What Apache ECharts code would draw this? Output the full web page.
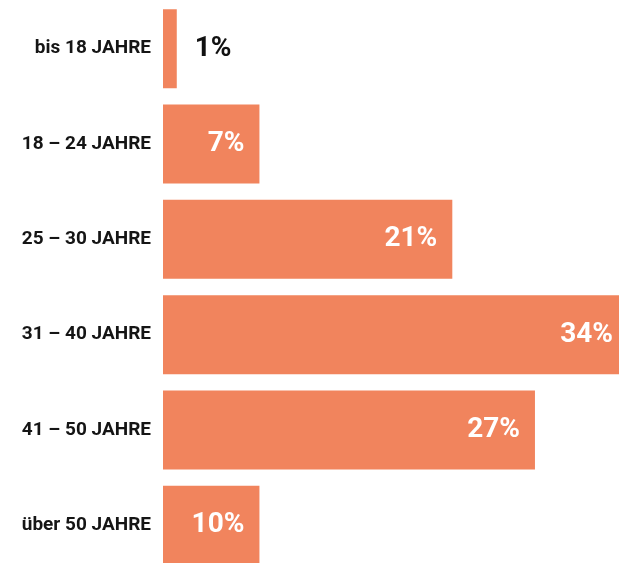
<!DOCTYPE html>
<html>
<head>
<meta charset="utf-8">
<script src="https://cdn.jsdelivr.net/npm/echarts@6/dist/echarts.min.js"></script>
<style>
html,body{margin:0;padding:0;background:#fff;}
#c{width:619px;height:563px;}
</style>
</head>
<body>
<div id="c"></div>
<script>
const categories = ['bis 18 JAHRE', '18 – 24 JAHRE', '25 – 30 JAHRE', '31 – 40 JAHRE', '41 – 50 JAHRE', 'über 50 JAHRE'];
// printed percentages
const percentages = [1, 7, 21, 34, 27, 10];
// bar lengths as drawn in the picture (in % units)
const barLengths = [1, 7, 21, 34, 27, 7];

const chart = echarts.init(document.getElementById('c'));
const data = barLengths.map((v, i) => {
  const item = { value: v };
  if (i === 0) {
    item.label = { position: 'right', distance: 18, color: '#111111' };
  } else if (percentages[i] === 34) {
    item.label = { distance: 6 };
  }
  return item;
});
chart.setOption({
  animation: false,
  grid: { left: 163, right: 0, top: 1, height: 572, containLabel: false, outerBoundsMode: 'none' },
  xAxis: {
    type: 'value', min: 0, max: 33.1,
    show: false
  },
  yAxis: {
    type: 'category', inverse: true, data: categories,
    axisLine: { show: false }, axisTick: { show: false },
    axisLabel: {
      margin: 12, color: '#151515', fontFamily: 'Roboto', fontWeight: 'bold', fontSize: 19
    }
  },
  series: [{
    type: 'bar',
    data: data,
    barCategoryGap: '17.2%',
    itemStyle: { color: '#F1845D' },
    clip: true,
    label: {
      show: true, position: 'insideRight', distance: 15,
      color: '#ffffff', fontFamily: 'Roboto', fontWeight: 'bold', fontSize: 28,
      formatter: p => percentages[p.dataIndex] + '%'
    }
  }]
});
</script>
</body>
</html>
